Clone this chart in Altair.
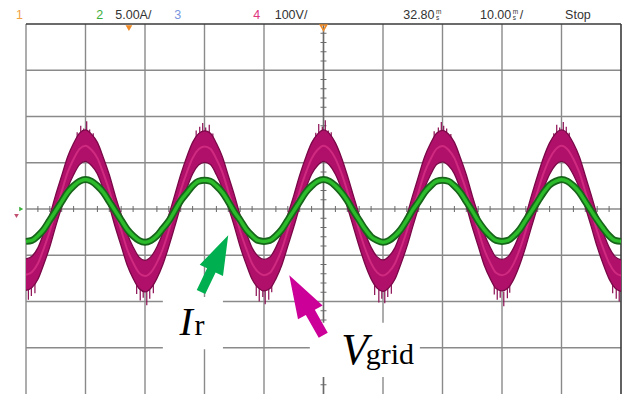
import altair as alt
import pandas as pd

# ---------------- data read from the scope screen ----------------
# time axis: 10 ms/div, 10 divisions (0..100 ms across the screen)
time_ms = list(range(0, 101))

# I_r (channel 2, 5.00 A/div) in amperes
ir_amps = [
    -3.5, -3.4, -2.9, -2.2, -1.2, -0.2, 0.8, 1.8, 2.5, 3.0, 3.2, 3.0, 2.5, 1.8, 0.8, -0.2, -1.2, -2.2, -2.9, -3.4,
    -3.6, -3.4, -2.9, -2.1, -1.3, -0.2, 0.9, 1.7, 2.5, 3.0, 3.1, 3.0, 2.5, 1.8, 0.8, -0.3, -1.2, -2.2, -2.9, -3.4,
    -3.5, -3.4, -2.9, -2.2, -1.2, -0.2, 0.8, 1.8, 2.5, 3.0, 3.2, 3.0, 2.5, 1.8, 0.9, -0.2, -1.2, -2.2, -3.0, -3.4,
    -3.6, -3.4, -2.9, -2.2, -1.2, -0.1, 0.8, 1.8, 2.5, 3.0, 3.1, 3.0, 2.5, 1.8, 0.8, -0.2, -1.3, -2.2, -2.9, -3.4,
    -3.5, -3.4, -2.9, -2.2, -1.2, -0.2, 0.8, 1.8, 2.6, 3.0, 3.2, 3.0, 2.5, 1.8, 0.8, -0.2, -1.2, -2.1, -2.9, -3.4,
    -3.5,
]

# V_grid (channel 4, 100 V/div) in volts, centre of the noisy trace
vgrid_volts = [
    -142, -136, -118, -85, -48, -3, 38, 79, 108, 130, 137, 128, 110, 77, 40, -5, -46, -87, -116, -138,
    -145, -137, -116, -86, -47, -4, 40, 78, 110, 129, 135, 130, 108, 79, 38, -3, -48, -85, -118, -136,
    -143, -138, -117, -87, -46, -5, 39, 77, 109, 128, 137, 129, 109, 78, 39, -4, -47, -86, -117, -137,
    -144, -136, -118, -85, -48, -4, 38, 79, 108, 130, 136, 128, 110, 77, 40, -5, -46, -87, -116, -138,
    -143, -137, -117, -86, -47, -3, 39, 78, 109, 129, 137, 129, 108, 79, 38, -4, -48, -85, -117, -137,
    -144,
]

# switching-noise spikes on V_grid (time in ms, tip in volts)
spike_t = [
    8.6, 9.2, 9.7, 10.2, 10.7, 11.3,
    28.6, 29.2, 29.7, 30.2, 30.8, 31.4,
    48.7, 49.2, 49.8, 50.3, 50.8, 51.3,
    68.6, 69.3, 69.8, 70.2, 70.7, 71.4,
    88.7, 89.2, 89.7, 90.3, 90.8, 91.3,
    0.4, 0.9, 1.5,
    18.6, 19.2, 19.7, 20.3, 20.8, 21.4,
    38.7, 39.2, 39.8, 40.2, 40.8, 41.3,
    58.6, 59.3, 59.8, 60.3, 60.8, 61.4,
    78.7, 79.2, 79.7, 80.3, 80.9, 81.3,
    98.6, 99.2, 99.7,
]
spike_v = [
    166, 180, 174, 190, 172, 164,
    170, 178, 186, 176, 182, 163,
    165, 184, 178, 192, 170, 166,
    168, 176, 188, 180, 174, 162,
    164, 182, 176, 188, 178, 165,
    -196, -188, -182,
    -184, -198, -192, -208, -194, -182,
    -188, -200, -190, -206, -196, -180,
    -186, -202, -194, -204, -190, -183,
    -185, -196, -192, -210, -193, -181,
    -182, -194, -200,
]

# screen graticule
x_major = [0, 10, 20, 30, 40, 50, 60, 70, 80, 90]
y_major = [-3, -2, -1, 0, 1, 2, 3]
x_minor = [v * 2 for v in range(1, 50) if v % 5 != 0]
y_minor = [round(v * 0.2, 1) for v in range(-19, 20) if v % 5 != 0]

# header read-out
header_text = ["1", "2", "5.00A/", "3", "4", "100V/", "32.80", "10.00", "/", "Stop"]
header_color = ["#f2a244", "#3cae3c", "#333333", "#7b96e0", "#e0367e", "#333333",
                "#333333", "#333333", "#333333", "#333333"]
header_x = [-1.7, 11.8, 15.0, 24.9, 38.2, 41.8, 63.4, 76.3, 83.0, 90.6]
unit_x = [68.9, 81.8]

# annotations
label_main = ["I", "V"]
label_sub = ["r", "grid"]

# ---------------- frames ----------------
df = pd.DataFrame({"t": time_ms, "ir": ir_amps, "vg": vgrid_volts})
spk = pd.DataFrame({"t": spike_t, "v": spike_v})

xs = alt.Scale(domain=[0, 100], nice=False, zero=False)
ys = alt.Scale(domain=[-4, 4], nice=False, zero=False)


def X(f):
    return alt.X(f, type="quantitative", scale=xs, axis=None)


def Y(f):
    return alt.Y(f, type="quantitative", scale=ys, axis=None)


grid_v = alt.Chart(pd.DataFrame({"x": x_major})).mark_rule(
    color="#8a8a8a", strokeWidth=1.4).encode(x=X("x"))
grid_h = alt.Chart(pd.DataFrame({"y": y_major})).mark_rule(
    color="#8a8a8a", strokeWidth=1.4).encode(y=Y("y"))
border_top = alt.Chart(pd.DataFrame({"y": [4]})).mark_rule(
    color="#3a3a3a", strokeWidth=1.6).encode(y=Y("y"))
border_right = alt.Chart(pd.DataFrame({"x": [100]})).mark_rule(
    color="#3a3a3a", strokeWidth=1.6).encode(x=X("x"))
center_v = alt.Chart(pd.DataFrame({"x": [50]})).mark_rule(
    color="#6a6a6a", strokeWidth=1.4).encode(x=X("x"))

minor_x = alt.Chart(pd.DataFrame({"x": x_minor})).transform_calculate(
    a="-0.065", b="0.065").mark_rule(color="#6a6a6a", strokeWidth=1).encode(
    x=X("x"), y=Y("a:Q"), y2="b:Q")
minor_y = alt.Chart(pd.DataFrame({"y": y_minor})).transform_calculate(
    a="49.5", b="50.5").mark_rule(color="#6a6a6a", strokeWidth=1).encode(
    y=Y("y"), x=X("a:Q"), x2="b:Q")

base = alt.Chart(df).transform_calculate(
    gy="datum.ir / 5",
    vy="datum.vg / 100",
    vu="(datum.vg + 34) / 100",
    vl="(datum.vg - 34) / 100",
)

spikes = alt.Chart(spk).transform_calculate(
    y1="datum.v / 100", y0="datum.v / 100 * 0.85").mark_rule(
    color="#8a0c52", strokeWidth=1.2).encode(x=X("t"), y=Y("y1:Q"), y2="y0:Q")

band = base.mark_area(color="#b0106a", interpolate="monotone").encode(
    x=X("t"), y=Y("vl:Q"), y2="vu:Q")
band_up = base.mark_line(color="#7a0848", strokeWidth=1.3, interpolate="monotone").encode(
    x=X("t"), y=Y("vu:Q"))
band_lo = base.mark_line(color="#7a0848", strokeWidth=1.3, interpolate="monotone").encode(
    x=X("t"), y=Y("vl:Q"))
v_mid = base.mark_line(color="#cf2a80", strokeWidth=2, interpolate="monotone").encode(
    x=X("t"), y=Y("vy:Q"))

g_out = base.mark_line(color="#17651a", strokeWidth=7, interpolate="monotone").encode(
    x=X("t"), y=Y("gy:Q"))
g_in = base.mark_line(color="#2cbb2a", strokeWidth=3.5, interpolate="monotone").encode(
    x=X("t"), y=Y("gy:Q"))

boxes = alt.Chart(pd.DataFrame({
    "x0": [23.0, 47.7], "x1": [33.1, 66.2], "y0": [-1.90, -2.46], "y1": [-3.03, -3.63]
})).mark_rect(color="white").encode(x=X("x0"), x2="x1", y=Y("y0"), y2="y1")

arrow_path = "M0,-1L0.41,0.24L0.15,0.24L0.15,1L-0.15,1L-0.15,0.24L-0.41,0.24Z"
arrows = alt.Chart(pd.DataFrame({
    "x": [31.7, 47.1], "y": [-1.18, -2.08], "ang": [25.6, 330.5],
    "sz": [3969, 4761], "c": ["#00b050", "#cc0099"]
})).mark_point(shape=arrow_path, filled=True, opacity=1, strokeWidth=0).encode(
    x=X("x"), y=Y("y"),
    angle=alt.Angle("ang:Q", scale=None),
    size=alt.Size("sz:Q", scale=None, legend=None),
    color=alt.Color("c:N", scale=None, legend=None),
)

main_lbl = alt.Chart(pd.DataFrame({
    "x": [25.8, 53.0], "y": [-2.72, -3.35], "s": [40, 44], "txt": label_main
})).mark_text(font="Liberation Serif", fontStyle="italic", align="left",
              baseline="alphabetic", color="black").encode(
    x=X("x"), y=Y("y"), text="txt:N", size=alt.Size("s:Q", scale=None, legend=None))
sub_lbl = alt.Chart(pd.DataFrame({
    "x": [28.3, 57.1], "y": [-2.72, -3.35], "txt": label_sub
})).mark_text(font="Liberation Serif", fontSize=30, align="left",
              baseline="alphabetic", color="black").encode(
    x=X("x"), y=Y("y"), text="txt:N")

header = alt.Chart(pd.DataFrame({
    "x": header_x, "txt": header_text, "c": header_color
})).transform_calculate(y="4.11").mark_text(
    font="Liberation Sans", fontSize=12.5, align="left", baseline="alphabetic").encode(
    x=X("x"), y=Y("y:Q"), text="txt:N", color=alt.Color("c:N", scale=None, legend=None))
unit_m = alt.Chart(pd.DataFrame({"x": unit_x})).transform_calculate(
    y="4.22", txt="'m'").mark_text(font="Liberation Sans", fontSize=6.5, align="left",
                                   baseline="alphabetic", color="#333333").encode(
    x=X("x"), y=Y("y:Q"), text="txt:N")
unit_s = alt.Chart(pd.DataFrame({"x": unit_x})).transform_calculate(
    y="4.09", txt="'s'").mark_text(font="Liberation Sans", fontSize=6.5, align="left",
                                   baseline="alphabetic", color="#333333").encode(
    x=X("x"), y=Y("y:Q"), text="txt:N")

marker_ch1 = alt.Chart(pd.DataFrame({"x": [17.3], "y": [3.91]})).mark_point(
    shape="triangle-down", filled=True, color="#f08a24", size=45, opacity=1).encode(
    x=X("x"), y=Y("y"))
marker_trig = alt.Chart(pd.DataFrame({"x": [50.0], "y": [3.92]})).mark_point(
    shape="triangle-down", filled=False, color="#f08a24", size=40, strokeWidth=1.5,
    opacity=1).encode(x=X("x"), y=Y("y"))
gnd_g = alt.Chart(pd.DataFrame({"x": [-0.8], "y": [0.0]})).mark_point(
    shape="triangle-right", filled=True, color="#38b038", size=22, opacity=1).encode(
    x=X("x"), y=Y("y"))
gnd_m = alt.Chart(pd.DataFrame({"x": [-1.6], "y": [-0.15]})).mark_point(
    shape="triangle-down", filled=True, color="#c05070", size=22, opacity=1).encode(
    x=X("x"), y=Y("y"))

chart = alt.layer(
    grid_v, grid_h, center_v, minor_x, minor_y, border_top, border_right,
    spikes, band, band_up, band_lo, v_mid, g_out, g_in,
    boxes, arrows, main_lbl, sub_lbl,
    header, unit_m, unit_s, marker_ch1, marker_trig, gnd_g, gnd_m,
).properties(
    width=595, height=370, autosize="none",
    padding={"left": 26, "top": 24, "right": 9, "bottom": 0},
    background="white",
).configure_view(stroke=None)

chart.save("out.html", embed_options={"renderer": "svg", "actions": False})
